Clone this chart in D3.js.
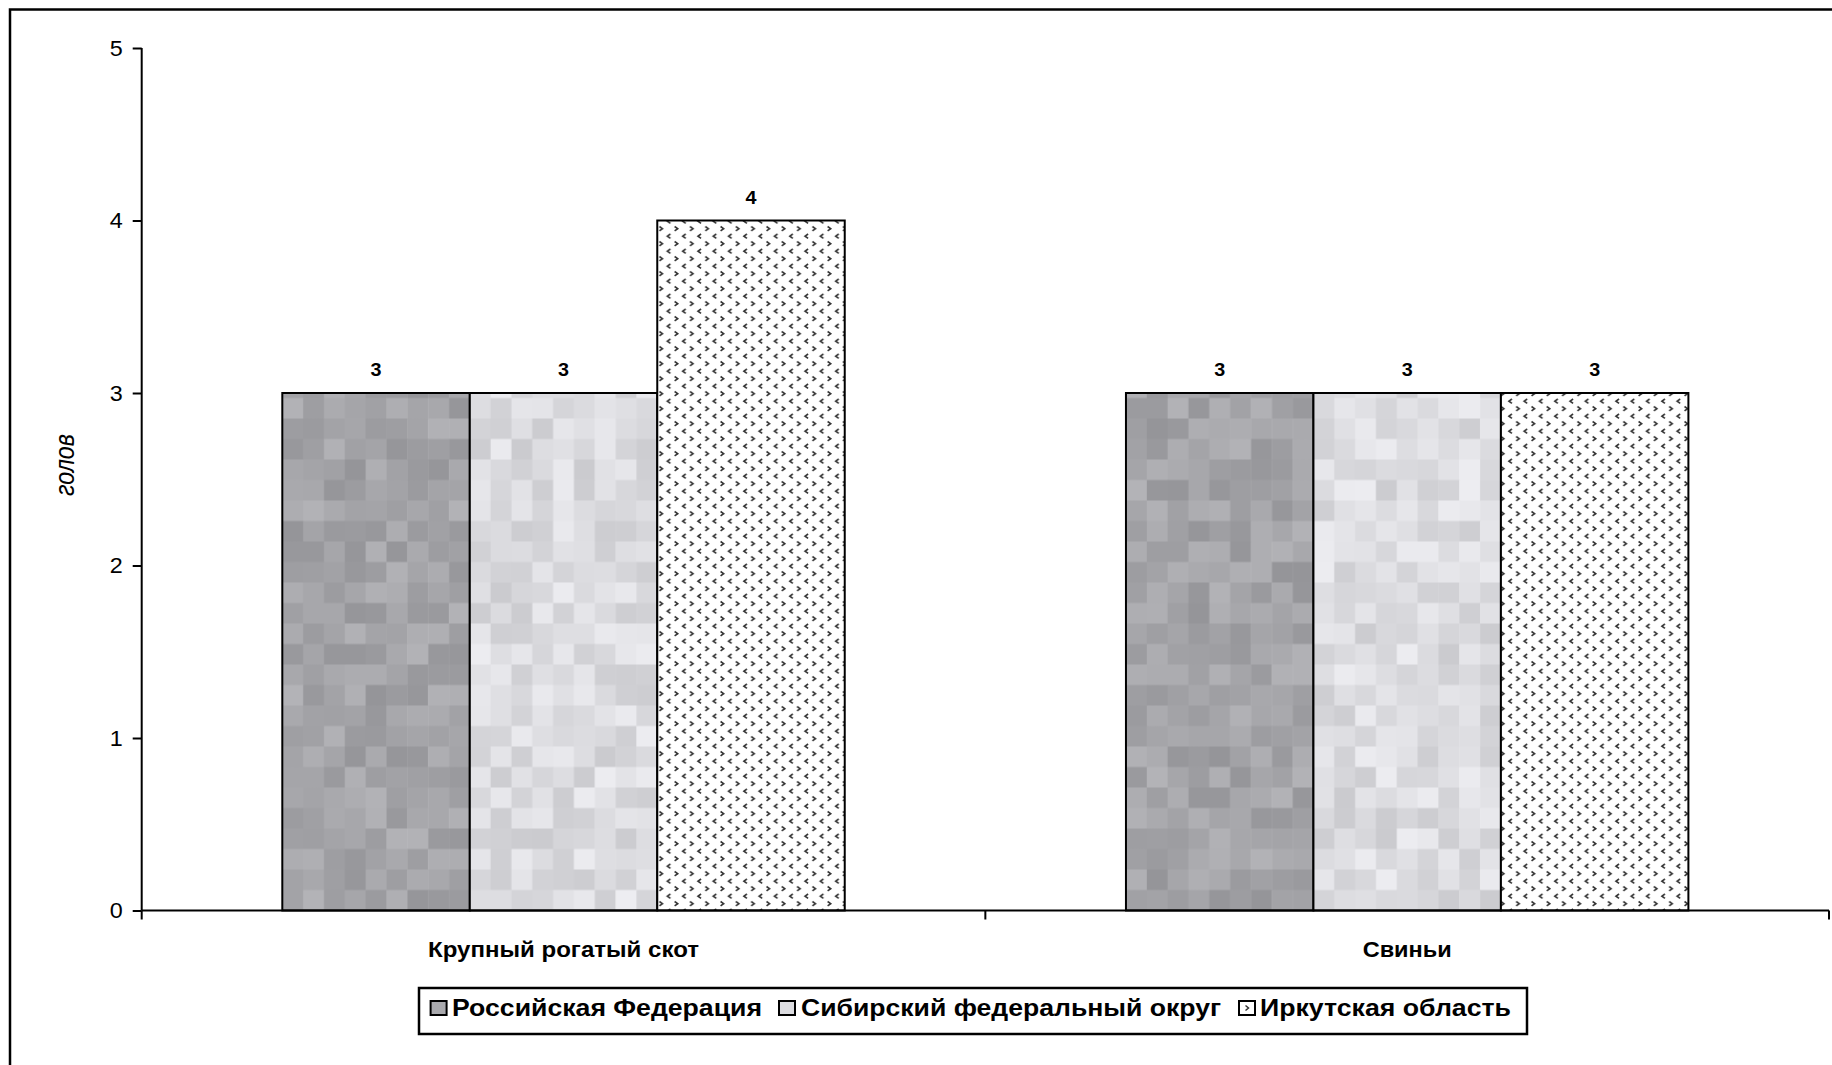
<!DOCTYPE html>
<html>
<head>
<meta charset="utf-8">
<script src="https://cdn.jsdelivr.net/npm/d3@7"></script>
<style>
  html, body { margin: 0; padding: 0; background: #fff; }
  svg { display: block; font-family: "Liberation Sans", Arial, sans-serif; }
</style>
</head>
<body>
<svg id="chart" width="1832" height="1065"></svg>
<script>
// ---- data ----
const categories = ["Крупный рогатый скот", "Свиньи"];
const seriesNames = ["Российская Федерация", "Сибирский федеральный округ", "Иркутская область"];
const valuesRF = [3, 3];
const valuesSFO = [3, 3];
const valuesIrk = [4, 3];
const yTicks = [0, 1, 2, 3, 4, 5];
const yLabel = "голов";

const seriesValues = [valuesRF, valuesSFO, valuesIrk];

// ---- layout ----
const W = 1832, H = 1065;
const plot = { left: 141.7, right: 1829, top: 48, bottom: 910.5 };

const svg = d3.select("#chart");
const defs = svg.append("defs");

// outer frame (only top & left edges visible)
svg.append("path")
  .attr("d", `M10,${H + 5} L10,9.5 L${W + 5},9.5`)
  .attr("fill", "none").attr("stroke", "#000").attr("stroke-width", 2.5);

const x0 = d3.scaleBand().domain(categories).range([plot.left, plot.right]).paddingInner(0).paddingOuter(0);
const x1 = d3.scaleBand().domain(seriesNames).range([0, x0.bandwidth()]).paddingInner(0).paddingOuter(0.75);
const y = d3.scaleLinear().domain([0, 5]).range([plot.bottom, plot.top]);

// deterministic texture generator (styling only)
function hashNoise(i, j, s) {
  let h = (i * 374761393 + j * 668265263 + s * 2147483647) | 0;
  h = Math.imul(h ^ (h >>> 13), 1274126177);
  h = h ^ (h >>> 16);
  return ((h >>> 0) % 1000) / 1000;
}

function mosaicPattern(id, xStart, base, spread, seed, bw) {
  const cols = 9, cellW = bw / cols, cellH = 20.5, rows = 44;
  const p = defs.append("pattern").attr("id", id)
    .attr("patternUnits", "userSpaceOnUse")
    .attr("x", xStart).attr("y", plot.bottom - rows * cellH)
    .attr("width", bw).attr("height", rows * cellH);
  for (let r = 0; r < rows; r++) {
    for (let c = 0; c < cols; c++) {
      const n = hashNoise(r + 1, c + 1, seed) - 0.5;
      const g = Math.round(base + n * spread);
      const b = Math.min(255, g + 4);
      p.append("rect")
        .attr("x", c * cellW).attr("y", r * cellH)
        .attr("width", cellW + 0.5).attr("height", cellH + 0.5)
        .attr("fill", `rgb(${g},${g},${b})`);
    }
  }
}

// chevron pattern
(function () {
  const p = defs.append("pattern").attr("id", "chev")
    .attr("patternUnits", "userSpaceOnUse")
    .attr("width", 15.3).attr("height", 15).attr("x", 0).attr("y", 0);
  p.append("rect").attr("width", 15.3).attr("height", 15).attr("fill", "#fff");
  p.append("path").attr("d", "M1.5,1.5 L4.5,3.7 L1.5,5.9")
    .attr("fill", "none").attr("stroke", "#333").attr("stroke-width", 1.6);
  p.append("path").attr("d", "M12.5,9 L9.5,11.2 L12.5,13.4")
    .attr("fill", "none").attr("stroke", "#333").attr("stroke-width", 1.6);
})();

const bw = x1.bandwidth();

// bars
categories.forEach((cat, ci) => {
  seriesNames.forEach((s, si) => {
    const v = seriesValues[si][ci];
    const bx = x0(cat) + x1(s);
    let fill;
    if (si === 0) {
      const id = `mRF${ci}`;
      mosaicPattern(id, bx, 164, 30, 11 + ci, bw);
      fill = `url(#${id})`;
    } else if (si === 1) {
      const id = `mSFO${ci}`;
      mosaicPattern(id, bx, 220, 34, 37 + ci, bw);
      fill = `url(#${id})`;
    } else {
      fill = "url(#chev)";
    }
    svg.append("rect")
      .attr("x", bx).attr("y", y(v))
      .attr("width", bw).attr("height", y(0) - y(v))
      .attr("fill", fill)
      .attr("stroke", "#000").attr("stroke-width", 2);
    svg.append("text")
      .attr("x", bx + bw / 2).attr("y", y(v) - 17)
      .attr("text-anchor", "middle")
      .attr("font-size", 19).attr("font-weight", "bold")
      .attr("textLength", 11).attr("lengthAdjust", "spacingAndGlyphs")
      .text(v);
  });
});

// y axis
const yAxis = svg.append("g").attr("transform", `translate(${plot.left},0)`)
  .call(d3.axisLeft(y).tickValues(yTicks).tickSize(9).tickPadding(10).tickFormat(d3.format("d")));
yAxis.select(".domain").attr("stroke", "#000").attr("stroke-width", 2)
  .attr("d", `M0,${plot.top} V${plot.bottom}`);
yAxis.selectAll(".tick line").attr("stroke", "#000").attr("stroke-width", 2);
yAxis.selectAll(".tick text").attr("font-size", 22).attr("fill", "#000")
  .attr("font-family", "'Liberation Sans', Arial, sans-serif")
  .attr("textLength", 13).attr("lengthAdjust", "spacingAndGlyphs");

// x axis
const xAxis = svg.append("g").attr("transform", `translate(0,${plot.bottom})`)
  .call(d3.axisBottom(x0).tickSize(0).tickFormat(""));
xAxis.select(".domain").attr("stroke", "#000").attr("stroke-width", 2)
  .attr("d", `M${plot.left},0 H${plot.right}`);
xAxis.selectAll(".tick").remove();
const xTickPos = [plot.left, x0(categories[1]), plot.right];
xAxis.selectAll("line.xt").data(xTickPos).enter().append("line")
  .attr("x1", d => d).attr("x2", d => d).attr("y1", 0).attr("y2", 9)
  .attr("stroke", "#000").attr("stroke-width", 2);

// category labels
const catWidths = [271, 89];
svg.selectAll("text.cat").data(categories).enter().append("text")
  .attr("class", "cat")
  .attr("x", d => x0(d) + x0.bandwidth() / 2).attr("y", 957)
  .attr("text-anchor", "middle")
  .attr("font-size", 22).attr("font-weight", "bold")
  .attr("textLength", (d, i) => catWidths[i]).attr("lengthAdjust", "spacingAndGlyphs")
  .text(d => d);

// y label
svg.append("text")
  .attr("transform", `translate(66,465) scale(1.2,1) rotate(-90)`)
  .attr("text-anchor", "middle")
  .attr("dy", "0.3em")
  .attr("font-size", 23).attr("font-style", "italic")
  .attr("textLength", 62).attr("lengthAdjust", "spacingAndGlyphs")
  .text(yLabel);

// legend
const lg = svg.append("g");
lg.append("rect").attr("x", 419).attr("y", 988).attr("width", 1108).attr("height", 46)
  .attr("fill", "#fff").attr("stroke", "#000").attr("stroke-width", 2.5);
const legendFills = ["#a9a9ad", "#dcdce0", "#fff"];
const swatchX = [430.6, 779, 1239];
const textX = [452, 801, 1260];
const textW = [310, 420, 251];
seriesNames.forEach((s, i) => {
  lg.append("rect").attr("x", swatchX[i]).attr("y", 1001).attr("width", 16).attr("height", 14)
    .attr("fill", legendFills[i]).attr("stroke", "#000").attr("stroke-width", 2);
  if (i === 2) {
    lg.append("path").attr("d", `M${swatchX[i] + 6.5},${1005.5} L${swatchX[i] + 9.5},${1008} L${swatchX[i] + 6.5},${1010.5}`)
      .attr("fill", "none").attr("stroke", "#333").attr("stroke-width", 1.5);
  }
  lg.append("text").attr("x", textX[i]).attr("y", 1016)
    .attr("font-size", 24).attr("font-weight", "bold")
    .attr("textLength", textW[i]).attr("lengthAdjust", "spacingAndGlyphs")
    .text(s);
});
</script>
</body>
</html>
